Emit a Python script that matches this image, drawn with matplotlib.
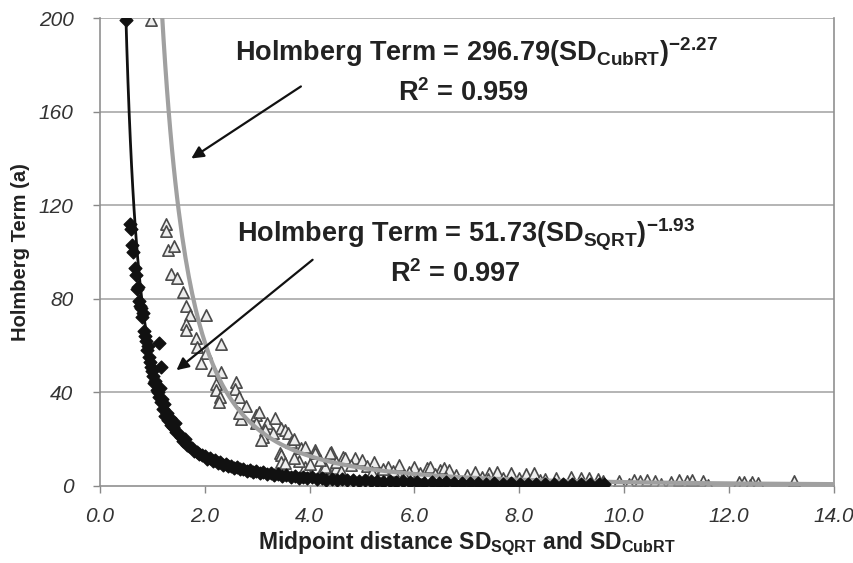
import numpy as np
import matplotlib
matplotlib.use("Agg")
import matplotlib.pyplot as plt

plt.rcParams['font.family'] = ['Liberation Sans', 'DejaVu Sans']
plt.rcParams['mathtext.fontset'] = 'custom'
plt.rcParams['mathtext.rm'] = 'Liberation Sans'
plt.rcParams['mathtext.bf'] = 'Liberation Sans:bold'

# SD_SQRT series (black diamonds)
sqrt_x = [0.50, 0.57, 0.59, 0.62, 0.63, 0.66, 0.68, 0.70, 0.72, 0.74, 0.76, 0.78,
          0.80, 0.82, 0.84, 0.86, 0.88, 0.90, 0.92, 0.94, 0.96, 0.98, 1.00, 1.02,
          1.04, 1.06, 1.08, 1.10, 1.12, 1.12, 1.14, 1.16, 1.17, 1.18, 1.20, 1.22,
          1.25, 1.28, 1.30, 1.33, 1.36, 1.40, 1.43, 1.46, 1.50, 1.54, 1.58, 1.62,
          1.66, 1.70, 1.75, 1.80, 1.85, 1.90, 1.95,
          2.00, 2.05, 2.10, 2.15, 2.20, 2.25, 2.30, 2.35, 2.40, 2.45, 2.50, 2.56,
          2.62, 2.68, 2.74, 2.80, 2.86, 2.92, 2.98, 3.05, 3.12, 3.19, 3.26, 3.33,
          3.40, 3.48, 3.56, 3.64, 3.72, 3.80, 3.88, 3.96, 4.05, 4.14, 4.23, 4.32,
          4.42, 4.52, 4.62, 4.72, 4.83, 4.94, 5.05, 5.17, 5.29, 5.41, 5.53, 5.66,
          5.79, 5.92, 6.05, 6.19, 6.33, 6.47, 6.61, 6.76, 6.91, 7.06, 7.21, 7.37,
          7.53, 7.69, 7.85, 8.01, 8.17, 8.33, 8.50, 8.67, 8.84, 9.01, 9.18, 9.35,
          9.52, 9.62]
sqrt_y = [199, 112, 110, 103, 100, 93, 90, 84, 85, 79, 77, 76,
          72, 74, 66, 64, 62, 58, 60, 55, 53, 51, 49, 47,
          44, 45, 41, 40, 61, 38, 42, 36, 51, 37, 33, 35,
          30, 31, 28, 29, 26, 25, 27, 23, 22, 21, 19, 20,
          17.5, 17, 16, 15, 14.5, 13.5, 13,
          12.8, 11.6, 11.9, 10.6, 10.9, 9.8, 10.2, 9.0, 9.4, 8.3, 8.7, 7.6,
          8.0, 7.0, 7.4, 6.4, 6.9, 5.9, 6.3, 5.4, 5.9, 5.0, 5.4, 4.6,
          5.0, 4.2, 4.6, 3.9, 4.2, 3.5, 3.9, 3.2, 3.6, 2.9, 3.3, 2.7,
          3.0, 2.5, 2.8, 2.3, 2.6, 2.1, 2.4, 1.9, 2.2, 1.8, 2.0, 1.6,
          1.9, 1.5, 1.7, 1.4, 1.6, 1.3, 1.5, 1.2, 1.4, 1.1, 1.3, 1.0,
          1.2, 0.9, 1.1, 0.9, 1.0, 0.8, 0.9, 0.7, 0.9, 0.7, 0.8, 0.6,
          0.7, 0.6]

# SD_CubRT series (grey triangles)
cub_x = [0.98, 1.27, 1.27, 1.29, 1.42, 1.36, 1.47, 1.59, 1.65, 1.71, 2.02, 1.65,
         1.64, 1.83, 1.86, 2.31, 2.02, 1.92, 2.16, 2.32, 2.60, 2.21, 2.22, 2.58,
         2.30, 2.65, 2.27, 2.78, 2.69, 2.65, 2.97, 3.03, 2.97, 3.18, 3.35, 3.16,
         3.46, 3.54, 3.31, 3.59, 3.12, 3.08, 3.65, 3.70, 3.44, 3.46, 3.84, 3.92,
         3.46, 3.54, 4.10, 4.10, 4.41, 4.40, 3.92, 4.26, 4.29, 4.63, 4.67, 4.86,
         5.01, 5.24, 4.48, 4.50, 5.71, 5.49, 6.00, 6.24, 6.49, 5.35, 6.30, 6.56,
         6.66, 7.15, 7.43, 7.57, 7.85, 8.13, 8.29, 8.99, 9.18, 9.33,
         4.20, 4.50, 4.80, 5.10, 5.40, 5.60, 5.90, 6.10, 6.40, 6.80, 7.00, 7.30,
         7.70, 8.00, 8.50, 8.70, 9.50, 3.80, 4.00, 3.70, 4.60, 5.20, 5.80, 6.60,
         7.40, 8.40,
         9.60, 9.90, 10.20, 10.30, 10.45, 10.60, 10.90, 11.05, 11.20, 11.30,
         11.50, 12.20, 12.30, 12.45, 12.55, 13.25, 10.10, 10.70, 11.60, 12.40]
cub_y = [199, 112, 109, 101, 102.6, 90.6, 89, 83, 77, 73, 73, 69,
         66.7, 63, 59.4, 60.7, 57, 52.6, 49.6, 48.5, 44.6, 43.5, 41, 41.5,
         38, 38, 36, 34, 28.5, 31, 30.5, 31.6, 27, 27, 29, 24,
         24.8, 24, 22.6, 22.6, 21, 19.7, 18.8, 20, 14, 13.2, 16.2, 16.7,
         10, 9.8, 15.4, 14, 14.5, 14, 8, 7.7, 8, 12.4, 12, 12,
         11, 10.3, 9, 7.7, 9, 8.1, 8.1, 7.7, 6.8, 5.6, 8, 7.7,
         6.8, 6, 5.6, 6, 5.6, 5.1, 5.6, 3.8, 3.4, 3.4,
         11, 10, 9, 8.5, 7, 6.5, 6, 5.5, 5, 4.5, 4.5, 4,
         3.5, 3.5, 3, 3.2, 2.8, 10.5, 9.5, 12, 6.5, 6, 4.5, 3.5,
         3, 2.5,
         2.2, 2.0, 2.5, 2.2, 2.5, 2.2, 1.8, 2.6, 2.2, 2.6,
         1.9, 1.5, 1.8, 1.6, 1.4, 2.0, 0.6, 0.6, 0.5, 0.5]

# power-law trend lines from the chart equations
sqrt_coef, sqrt_exp = 51.73, -1.93
cub_coef, cub_exp = 296.79, -2.27

fig = plt.figure(figsize=(8.54, 5.63), dpi=100)
ax = fig.add_axes([0.117, 0.137, 0.859, 0.831])

for yv in [40, 80, 120, 160, 200]:
    ax.axhline(yv, color='#a8a8a8', lw=1.2, zorder=0)

ax.scatter(cub_x, cub_y, marker='^', s=66, facecolor='#eeeeee',
           edgecolor='#4a4a4a', linewidth=1.2, zorder=2)
xc = np.linspace(1.15, 14.0, 400)
ax.plot(xc, cub_coef * xc ** cub_exp, color='#a0a0a0', lw=3.0, zorder=3)

ax.scatter(sqrt_x, sqrt_y, marker='D', s=42, color='#111111', zorder=4)
xs = np.linspace(0.49, 9.6, 400)
ax.plot(xs, sqrt_coef * xs ** sqrt_exp, color='#111111', lw=2.0, zorder=4)

ax.set_xlim(0, 14)
ax.set_ylim(0, 200)
ax.set_xticks(np.arange(0, 14.1, 2))
ax.set_xticklabels([f'{v:.1f}' for v in np.arange(0, 14.1, 2)])
ax.set_yticks([0, 40, 80, 120, 160, 200])
for lab in ax.get_xticklabels() + ax.get_yticklabels():
    lab.set_fontstyle('italic')
    lab.set_fontsize(15)
    lab.set_color('#333333')
ax.tick_params(axis='both', direction='out', length=5, width=1, color='#888888')
ax.tick_params(axis='x', pad=10)
ax.tick_params(axis='y', pad=14)

for s in ['left', 'bottom', 'right']:
    ax.spines[s].set_color('#909090')
    ax.spines[s].set_linewidth(1.2)
ax.spines['top'].set_visible(False)

ax.set_xlabel(r'Midpoint distance SD$_{\mathbf{SQRT}}$ and SD$_{\mathbf{CubRT}}$',
              fontsize=16.5, fontweight='bold', color='#222222', labelpad=3)
ax.set_ylabel('Holmberg Term (a)', fontsize=14.5, fontweight='bold', color='#222222', labelpad=6)

ax.text(2.57, 185.5, r'Holmberg Term = 296.79(SD$_{\mathbf{CubRT}}$)$^{\mathbf{-2.27}}$',
        fontsize=19.5, fontweight='bold', color='#222222', va='center')
ax.text(6.94, 168, r'R$^{\mathbf{2}}$ = 0.959', fontsize=19.5, fontweight='bold',
        color='#222222', va='center', ha='center')
ax.text(2.61, 107.3, r'Holmberg Term = 51.73(SD$_{\mathbf{SQRT}}$)$^{\mathbf{-1.93}}$',
        fontsize=19.5, fontweight='bold', color='#222222', va='center')
ax.text(6.79, 90.6, r'R$^{\mathbf{2}}$ = 0.997', fontsize=19.5, fontweight='bold',
        color='#222222', va='center', ha='center')

ax.annotate('', xy=(1.70, 139.3), xytext=(3.88, 171.4),
            arrowprops=dict(arrowstyle='-|>', color='#111111', lw=1.6,
                            mutation_scale=18))
ax.annotate('', xy=(1.42, 48.7), xytext=(4.10, 97.4),
            arrowprops=dict(arrowstyle='-|>', color='#111111', lw=1.6,
                            mutation_scale=18))

fig.savefig('out.png', dpi=100)
